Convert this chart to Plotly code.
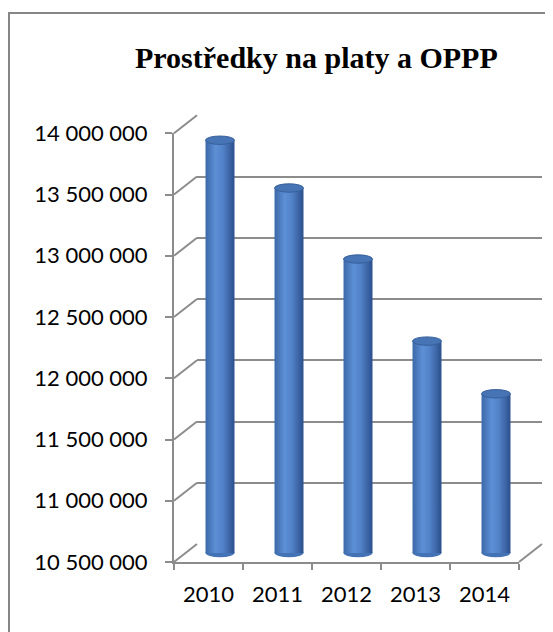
import plotly.graph_objects as go

# ---- data ----
years = ["2010", "2011", "2012", "2013", "2014"]
values = [13870000, 13480000, 12900000, 12230000, 11800000]
y_min = 10500000
y_max = 14000000
y_step = 500000
title_text = "Prostředky na platy a OPPP"

# ---- geometry (pixels, in screen coords of the reference) ----
W, H = 553, 632
OFF = 8                      # page body margin compensation
FX0, FX1 = 174, 519          # front plane x extent
FY0, FY1 = 562, 133.3        # front plane pixel y of y_min / y_max
DX, DY = 23, -18             # depth offset of back wall
scale = (FY0 - FY1) / (y_max - y_min)   # pixels per unit
GRID = "#8c8c8c"


def px(x):
    return (x - OFF) / W


def py(y):
    return 1 - (y - OFF) / H


def ypix(v, plane):
    return FY0 - (v - y_min) * scale + DY * plane


def xpix(x, plane):
    return x + DX * plane


fig = go.Figure()

fig.add_trace(go.Scatter(x=years, y=[None] * len(years), xaxis="x", yaxis="y",
                         showlegend=False, hoverinfo="skip"))
fig.add_trace(go.Scatter(x=years, y=[None] * len(years), xaxis="x2", yaxis="y2",
                         showlegend=False, hoverinfo="skip"))

# mid plane: cylinders built from vertical strips
BAR_W = 0.42
N = 16


def lerp(c1, c2, t):
    return tuple(round(a + (b - a) * t) for a, b in zip(c1, c2))


stops = [(0.0, (60, 104, 168)), (0.35, (94, 144, 214)), (0.6, (82, 130, 200)),
         (1.0, (44, 80, 140))]


def shade(t):
    for (t0, c0), (t1, c1) in zip(stops[:-1], stops[1:]):
        if t0 <= t <= t1:
            return "rgb(%d,%d,%d)" % lerp(c0, c1, (t - t0) / (t1 - t0))
    return "rgb(%d,%d,%d)" % stops[-1][1]


lengths = [v - y_min for v in values]
sw = BAR_W / N
for k in range(N):
    w = sw * (1.6 if k < N - 1 else 1.0)
    fig.add_trace(go.Bar(
        x=years, y=lengths, base=y_min, xaxis="x3", yaxis="y3",
        width=w, offset=-BAR_W / 2 + k * sw,
        marker=dict(color=shade((k + 0.5) / N), line=dict(width=0)),
        showlegend=False, hoverinfo="skip"))

shapes = []
eh = 4.2 / scale
for i, v in enumerate(values):
    shapes.append(dict(type="circle", xref="x3", yref="y3",
                       x0=i - BAR_W / 2, x1=i + BAR_W / 2, y0=v - eh, y1=v + eh,
                       fillcolor="#4674b4", line=dict(color="#38609c", width=1),
                       layer="above"))
    shapes.append(dict(type="circle", xref="x3", yref="y3",
                       x0=i - BAR_W / 2, x1=i + BAR_W / 2, y0=y_min - eh, y1=y_min + eh,
                       fillcolor="#4373b4", line=dict(width=0), layer="between"))

v = y_min
while v <= y_max + 1:
    shapes.append(dict(type="line", xref="paper", yref="paper",
                       x0=px(xpix(FX0, 0)), y0=py(ypix(v, 0)),
                       x1=px(xpix(FX0, 1)), y1=py(ypix(v, 1)),
                       line=dict(color=GRID, width=2)))
    v += y_step
shapes.append(dict(type="line", xref="paper", yref="paper",
                   x0=px(xpix(FX1, 0)), y0=py(ypix(y_min, 0)),
                   x1=px(xpix(FX1, 1)), y1=py(ypix(y_min, 1)),
                   line=dict(color=GRID, width=2)))
shapes.append(dict(type="rect", xref="paper", yref="paper",
                   x0=px(9), y0=py(13), x1=px(580), y1=py(660),
                   line=dict(color="#868686", width=2), fillcolor="rgba(0,0,0,0)",
                   layer="below"))

mid_lo = y_min - 300000
mid_hi = y_max + 200000

fig.update_layout(
    width=W, height=H,
    margin=dict(l=0, r=0, t=0, b=0, autoexpand=False),
    paper_bgcolor="white", plot_bgcolor="rgba(0,0,0,0)",
    separators=", ",
    barmode="overlay",
    showlegend=False,
    shapes=shapes,
    font=dict(family="Lato, Carlito, Calibri, sans-serif", size=22, color="black"),
    annotations=[dict(text="<b>" + title_text + "</b>", xref="paper", yref="paper",
                      x=px(316), y=py(58), xanchor="center", yanchor="middle",
                      showarrow=False,
                      font=dict(family="Liberation Serif, Times New Roman, serif",
                                size=30, color="black"))],
    xaxis=dict(domain=[px(FX0), px(FX1)], anchor="y", type="category",
               range=[-0.5, len(years) - 0.5], showgrid=False, zeroline=False,
               showline=True, linecolor=GRID, linewidth=2, automargin=False,
               ticks="outside", tickson="boundaries", ticklen=6, tickwidth=2,
               tickcolor=GRID, tickfont=dict(size=22), ticklabelstandoff=12),
    yaxis=dict(domain=[py(FY0), py(FY1)], anchor="x", range=[y_min, y_max],
               tick0=y_min, dtick=y_step, tickformat=",d", automargin=False,
               showgrid=False, zeroline=False, showline=True, linecolor=GRID,
               linewidth=2, ticks="outside", ticklen=7, tickwidth=2, tickcolor=GRID,
               tickfont=dict(size=22), ticklabelstandoff=13),
    xaxis2=dict(domain=[px(xpix(FX0, 1)), px(xpix(FX1, 1))], anchor="y2",
                type="category", range=[-0.5, len(years) - 0.5], visible=False,
                automargin=False),
    yaxis2=dict(domain=[py(ypix(y_min, 1)), py(ypix(y_max, 1))], anchor="x2",
                range=[y_min, y_max], tick0=y_min, dtick=y_step, automargin=False,
                showgrid=True, gridcolor=GRID, gridwidth=2, zeroline=False,
                showticklabels=False, ticks="", showline=False),
    xaxis3=dict(domain=[px(xpix(FX0, 0.5)), px(xpix(FX1, 0.5))], anchor="y3",
                type="category", range=[-0.5, len(years) - 0.5], visible=False,
                automargin=False),
    yaxis3=dict(domain=[py(ypix(mid_lo, 0.5)), py(ypix(mid_hi, 0.5))], anchor="x3",
                range=[mid_lo, mid_hi], visible=False, automargin=False),
)

fig.write_html("out.html")
